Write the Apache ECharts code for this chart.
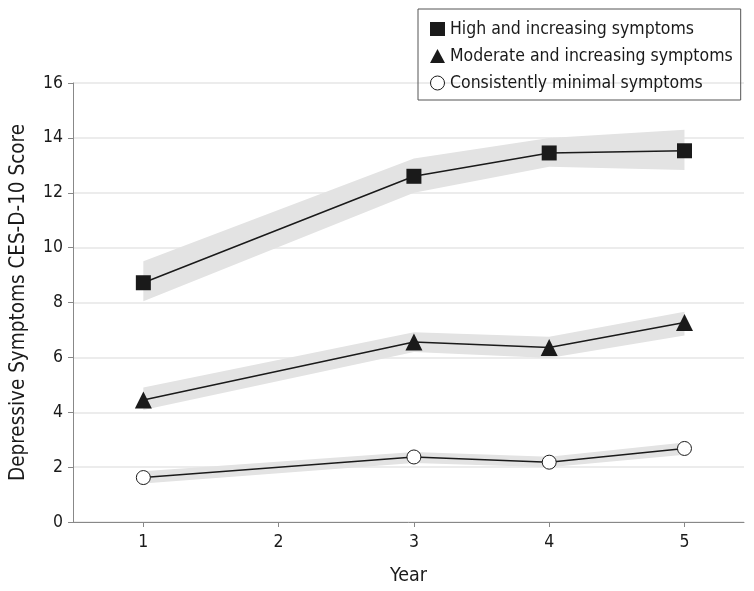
<!DOCTYPE html>
<html><head><meta charset="utf-8">
<script src="https://cdn.jsdelivr.net/npm/echarts@6/dist/echarts.min.js"></script>
<style>html,body{margin:0;padding:0;background:#fff}#c{width:754px;height:591px}</style>
</head><body><div id="c"></div>
<script>
var years = [1, 3, 4, 5];
var xTicks = [1, 2, 3, 4, 5];
var seriesNames = ['High and increasing symptoms', 'Moderate and increasing symptoms', 'Consistently minimal symptoms'];
var highMean = [8.72, 12.6, 13.45, 13.53];
var highUpper = [9.5, 13.25, 14.0, 14.3];
var highLower = [8.05, 12.0, 12.95, 12.83];
var modMean = [4.45, 6.56, 6.36, 7.27];
var modUpper = [4.9, 6.92, 6.75, 7.66];
var modLower = [4.08, 6.2, 5.98, 6.8];
var minMean = [1.62, 2.37, 2.18, 2.68];
var minUpper = [1.85, 2.55, 2.38, 2.9];
var minLower = [1.4, 2.15, 2.0, 2.45];

var FONT = 'DejaVu Sans Condensed';
function pts(v){ return years.map(function(x,i){return [x, v[i]];}); }
function band(upper, lower){
  return {
    type: 'custom', silent: true, z: 1,
    data: [0],
    renderItem: function(params, api){
      var poly = [];
      for (var i=0;i<years.length;i++) poly.push(api.coord([years[i], upper[i]]));
      for (var j=years.length-1;j>=0;j--) poly.push(api.coord([years[j], lower[j]]));
      return {type:'polygon', shape:{points:poly}, style:{fill:'#e3e3e3'}};
    }
  };
}
var chart = echarts.init(document.getElementById('c'));
chart.setOption({
  animation: false,
  grid: {left: 71, right: 10, top: 83, bottom: 69},
  legend: {
    orient: 'vertical', left: 418, top: 9,
    borderColor: '#555', borderWidth: 1, padding: [11, 8, 8, 12],
    itemGap: 9, itemWidth: 15, itemHeight: 14,
    textStyle: {fontFamily: FONT, fontSize: 17.5, color: '#1a1a1a'},
    data: [
      {name: seriesNames[0], icon: 'rect'},
      {name: seriesNames[1], icon: 'triangle'},
      {name: seriesNames[2], icon: 'circle', itemStyle: {color: '#fff', borderColor: '#1a1a1a', borderWidth: 1}}
    ]
  },
  xAxis: {
    type: 'value', min: 0.48, max: 5.44,
    name: 'Year', nameLocation: 'middle', nameGap: 44,
    nameTextStyle: {fontFamily: FONT, fontSize: 19.5, color: '#1a1a1a'},
    axisLine: {show: true, lineStyle: {color: '#888', width: 1}},
    axisTick: {show: true, length: 5, lineStyle: {color: '#888'}, customValues: xTicks},
    axisLabel: {fontFamily: FONT, fontSize: 17.5, color: '#1a1a1a', margin: 11, customValues: xTicks},
    splitLine: {show: false}
  },
  yAxis: {
    type: 'value', min: 0, max: 16, interval: 2,
    name: 'Depressive Symptoms CES-D-10 Score', nameLocation: 'middle', nameGap: 44,
    nameTextStyle: {fontFamily: FONT, fontSize: 20.5, color: '#1a1a1a'},
    axisLine: {show: true, lineStyle: {color: '#888', width: 1}},
    axisTick: {show: true, length: 5, lineStyle: {color: '#888'}},
    axisLabel: {fontFamily: FONT, fontSize: 17.5, color: '#1a1a1a', margin: 10},
    splitLine: {show: true, lineStyle: {color: '#e6e6e6', width: 1.5}}
  },
  series: [
    band(highUpper, highLower), band(modUpper, modLower), band(minUpper, minLower),
    {name: seriesNames[0], type: 'line', z: 3, data: pts(highMean), symbol: 'rect', symbolSize: 15,
     lineStyle: {color: '#1a1a1a', width: 1.5}, itemStyle: {color: '#1a1a1a'}},
    {name: seriesNames[1], type: 'line', z: 3, data: pts(modMean), symbol: 'triangle', symbolSize: 17,
     lineStyle: {color: '#1a1a1a', width: 1.5}, itemStyle: {color: '#1a1a1a'}},
    {name: seriesNames[2], type: 'line', z: 3, data: pts(minMean), symbol: 'circle', symbolSize: 14,
     lineStyle: {color: '#1a1a1a', width: 1.5}, itemStyle: {color: '#fff', borderColor: '#1a1a1a', borderWidth: 1}}
  ]
});
</script></body></html>
